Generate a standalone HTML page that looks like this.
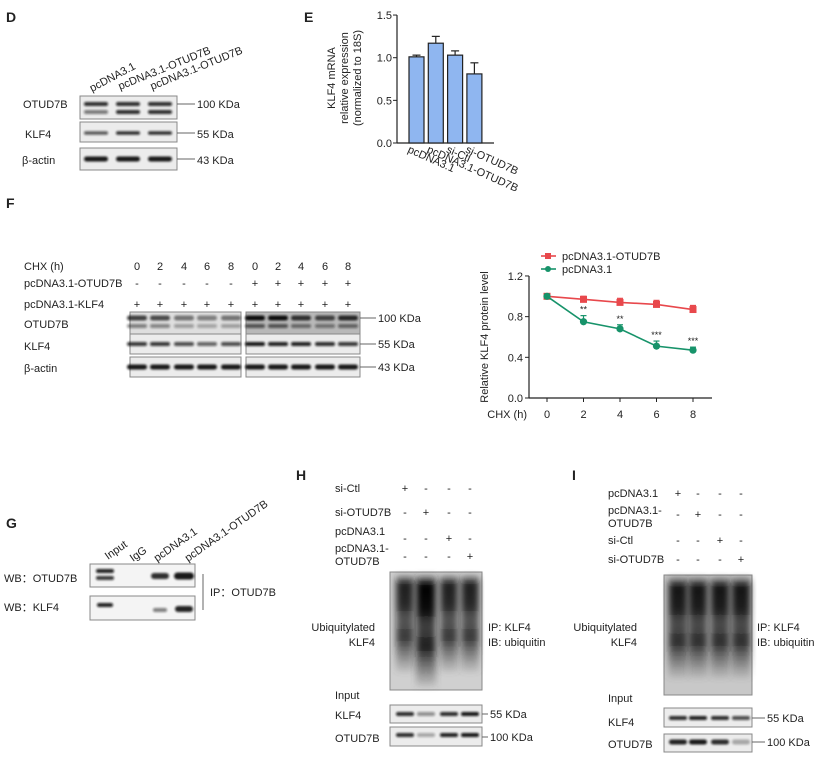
<!DOCTYPE html>
<html><head><meta charset="utf-8"><style>
html,body{margin:0;padding:0;background:#fff;}
svg{display:block;font-family:"Liberation Sans",Arial,sans-serif;}
text{fill:#222;}
</style></head><body>
<svg id="fig" width="824" height="758" viewBox="0 0 824 758" xmlns="http://www.w3.org/2000/svg">
<defs>
<filter id="bl" x="-20%" y="-100%" width="140%" height="300%"><feGaussianBlur stdDeviation="1.1"/></filter>
<filter id="bl2" x="-30%" y="-20%" width="160%" height="140%"><feGaussianBlur stdDeviation="3.5"/></filter>
<linearGradient id="smearG" x1="0" y1="0" x2="0" y2="1">
<stop offset="0" stop-color="#333" stop-opacity="0.5"/>
<stop offset="0.08" stop-color="#000" stop-opacity="1"/>
<stop offset="0.3" stop-color="#000" stop-opacity="0.95"/>
<stop offset="0.45" stop-color="#111" stop-opacity="0.75"/>
<stop offset="0.65" stop-color="#000" stop-opacity="0.85"/>
<stop offset="0.85" stop-color="#333" stop-opacity="0.5"/>
<stop offset="1" stop-color="#555" stop-opacity="0.15"/>
</linearGradient>
</defs>
<g font-size="14" font-weight="bold">
<text x="6" y="22">D</text>
<text x="304" y="22">E</text>
<text x="6" y="208">F</text>
<text x="6" y="528">G</text>
<text x="296" y="480">H</text>
<text x="572" y="480">I</text>
</g>
<g id="blots"></g>
<g id="barchart"></g>
<g id="linechart"></g>
</svg>
<script>
const NS='http://www.w3.org/2000/svg';
function mk(parent,tag,attrs,txt){const e=document.createElementNS(NS,tag);for(const k in attrs)e.setAttribute(k,attrs[k]);if(txt!==undefined)e.textContent=txt;parent.appendChild(e);return e;}
const B=document.getElementById('blots');
function txt(x,y,s,opt){opt=opt||{};const e=mk(B,'text',{x:x,y:y,'font-size':opt.fs||11,'text-anchor':opt.a||'start'},s);if(opt.rot)e.setAttribute('transform','rotate('+opt.rot+' '+x+' '+y+')');


return e;}
function box(x,y,w,h,bg){const r=mk(B,'rect',{x:x,y:y,width:w,height:h,fill:bg||'#ececec',stroke:'#888','stroke-width':1});


return r;}
function band(cx,cy,w,h,op){const r=mk(B,'rect',{x:cx-w/2,y:cy-h/2,width:w,height:h,rx:h/2,fill:'#111',opacity:op,filter:'url(#bl)'});

}
function line(x1,y1,x2,y2){const l=mk(B,'line',{x1:x1,y1:y1,x2:x2,y2:y2,stroke:'#666','stroke-width':1});

}
function smear(x,y,w,h,op){const g=mk(B,'rect',{x:x-w/2,y:y,width:w,height:h,fill:'url(#smearG)',opacity:op,filter:'url(#bl2)'});

}

// ---- Panel D
txt(92,92,'pcDNA3.1',{rot:-28});txt(120,90,'pcDNA3.1-OTUD7B',{rot:-22});txt(152,90,'pcDNA3.1-OTUD7B',{rot:-22});
txt(23,108,'OTUD7B');txt(25,138,'KLF4');txt(22,164,'β-actin');
box(80,96,97,23);box(80,122,97,20);box(80,148,97,22);
[96,128,160].forEach((x,i)=>{band(x,104,24,4,0.85);band(x,112,24,4,i?0.85:0.5);band(x,133,24,3.5,i?0.85:0.65);band(x,159,24,5,0.95);});
line(177,104,195,104);line(177,133,195,133);line(177,159,195,159);
txt(197,108,'100 KDa');txt(197,138,'55 KDa');txt(197,164,'43 KDa');

// ---- Panel F
txt(24,270,'CHX (h)');txt(24,287,'pcDNA3.1-OTUD7B');txt(24,308,'pcDNA3.1-KLF4');
txt(24,328,'OTUD7B');txt(24,350,'KLF4');txt(24,372,'β-actin');
const fl=[137,160,184,207,231,255,278,301,325,348];const hrs=['0','2','4','6','8','0','2','4','6','8'];
fl.forEach((x,i)=>{txt(x,270,hrs[i],{a:'middle'});txt(x,287,i<5?'-':'+',{a:'middle'});txt(x,308,'+',{a:'middle'});});
box(130,312,111,22,'#dedede');box(246,312,114,22,'#b8b8b8');box(130,334,111,20);box(246,334,114,20);box(130,357,111,20);box(246,357,114,20);
const fo=[0.75,0.7,0.5,0.45,0.5,1,1,0.8,0.7,0.85];const fk=[0.8,0.8,0.7,0.6,0.7,0.95,0.9,0.9,0.85,0.8];
fl.forEach((x,i)=>{band(x,318,20,5,fo[i]);band(x,326,20,4,fo[i]*0.6);band(x,344,20,4,fk[i]);band(x,367,20,5,0.95);});
line(360,318,376,318);line(360,344,376,344);line(360,367,376,367);
txt(378,322,'100 KDa');txt(378,348,'55 KDa');txt(378,371,'43 KDa');

// ---- Panel G
txt(108,560,'Input',{rot:-35});txt(133,562,'IgG',{rot:-35});txt(157,562,'pcDNA3.1',{rot:-35});txt(188,562,'pcDNA3.1-OTUD7B',{rot:-35});
txt(4,582,'WB：OTUD7B');txt(4,611,'WB：KLF4');
box(90,564,105,23,'#f4f4f4');box(90,596,105,24,'#f4f4f4');
band(105,571,18,4,0.9);band(105,578,18,4,0.8);band(160,576,18,6,0.85);band(184,576,20,7,0.95);
band(105,605,16,4,0.9);band(160,610,14,4,0.5);band(184,609,18,6,0.9);
line(203,574,203,610);txt(210,596,'IP：OTUD7B');

// ---- Panel H
const hl=[405,426,449,470];
txt(335,492,'si-Ctl');txt(335,516,'si-OTUD7B');txt(335,535,'pcDNA3.1');txt(335,552,'pcDNA3.1-');txt(335,565,'OTUD7B');
[['+','-','-','-',492],['-','+','-','-',516],['-','-','+','-',542],['-','-','-','+',560]].forEach(r=>hl.forEach((x,i)=>txt(x,r[4],r[i],{a:'middle'})));
box(390,572,92,118,'#d0d0d0');
hl.forEach((x,i)=>smear(x,576,i==1?20:18,i==1?110:96,i==1?1:0.85));
txt(375,631,'Ubiquitylated',{a:'end'});txt(375,646,'KLF4',{a:'end'});
txt(488,631,'IP: KLF4');txt(488,646,'IB: ubiquitin');txt(335,699,'Input');
txt(335,719,'KLF4');txt(335,742,'OTUD7B');
box(390,705,92,18);box(390,727,92,19);
[0.85,0.4,0.85,0.95].forEach((o,i)=>band(hl[i],714,18,4,o));[0.85,0.3,0.9,0.95].forEach((o,i)=>band(hl[i],735,18,4,o));
line(482,714,488,714);line(482,737,488,737);
txt(490,718,'55 KDa');txt(490,741,'100 KDa');

// ---- Panel I
const il=[678,698,720,741];
txt(608,497,'pcDNA3.1');txt(608,514,'pcDNA3.1-');txt(608,527,'OTUD7B');txt(608,544,'si-Ctl');txt(608,563,'si-OTUD7B');
[['+','-','-','-',497],['-','+','-','-',518],['-','-','+','-',544],['-','-','-','+',563]].forEach(r=>il.forEach((x,i)=>txt(x,r[4],r[i],{a:'middle'})));
box(664,575,88,120,'#c8c8c8');
il.forEach((x,i)=>smear(x,578,19,100,0.9));
txt(637,631,'Ubiquitylated',{a:'end'});txt(637,646,'KLF4',{a:'end'});
txt(757,631,'IP: KLF4');txt(757,646,'IB: ubiquitin');txt(608,702,'Input');
txt(608,726,'KLF4');txt(608,748,'OTUD7B');
box(664,708,88,19);box(664,734,88,18);
[0.85,0.9,0.85,0.7].forEach((o,i)=>band(il[i],718,18,4,o));[0.9,0.95,0.85,0.3].forEach((o,i)=>band(il[i],742,18,5,o));
line(752,718,765,718);line(752,742,765,742);
txt(767,722,'55 KDa');txt(767,746,'100 KDa');

// ================= Bar chart (E)
const barCats=['pcDNA3.1','pcDNA3.1-OTUD7B','si-Ctl','si-OTUD7B'];
const barVals=[1.01,1.17,1.03,0.81];
const barErrs=[0.02,0.08,0.05,0.13];
const barTicks=[0,0.5,1.0,1.5];
(function(){
const G=document.getElementById('barchart');
const y0=143,sc=85.3,ax=397;
const yv=v=>y0-v*sc;const xb=i=>409+i*19.3;
mk(G,'line',{x1:ax,y1:yv(1.5),x2:ax,y2:y0,stroke:'#222','stroke-width':1.2});
mk(G,'line',{x1:ax,y1:y0,x2:494,y2:y0,stroke:'#222','stroke-width':1.2});
barTicks.forEach(t=>{mk(G,'line',{x1:ax-4,y1:yv(t),x2:ax,y2:yv(t),stroke:'#222'});
const l=mk(G,'text',{x:ax-5,y:yv(t)+4,'font-size':11,'text-anchor':'end'},t.toFixed(1));

});
barVals.forEach((v,i)=>{const x=xb(i);
const r=mk(G,'rect',{x:x,y:yv(v),width:15,height:y0-yv(v),fill:'#8fb6f0',stroke:'#222','stroke-width':1.2});


const e=barErrs[i];mk(G,'line',{x1:x+7.5,y1:yv(v),x2:x+7.5,y2:yv(v+e),stroke:'#222','stroke-width':1.2});
mk(G,'line',{x1:x+3.5,y1:yv(v+e),x2:x+11.5,y2:yv(v+e),stroke:'#222','stroke-width':1.2});
const lx=x-2,ly=y0+9;
const l=mk(G,'text',{x:lx,y:ly,'font-size':11,'text-anchor':'start',transform:'rotate(24 '+lx+' '+ly+')'},barCats[i]);

});
['KLF4 mRNA','relative expression','(normalized to 18S)'].forEach((s,k)=>{const x=335+k*13;
const l=mk(G,'text',{x:x,y:78,'font-size':11,'text-anchor':'middle',transform:'rotate(-90 '+x+' 78)'},s);

});
})();

// ================= Line chart (F right)
const hours=[0,2,4,6,8];
const otudVals=[1.0,0.97,0.94,0.92,0.87];
const otudErrs=[0.02,0.03,0.04,0.04,0.04];
const ctrlVals=[1.0,0.75,0.68,0.51,0.47];
const ctrlErrs=[0.02,0.06,0.04,0.05,0.03];
const sigMarks=['','**','**','***','***'];
const lineTicks=[0,0.4,0.8,1.2];
(function(){
const G=document.getElementById('linechart');
const yv=v=>398-v*101.7;const xv=h=>547+h*18.25;const ax=529;
mk(G,'line',{x1:ax,y1:yv(1.2),x2:ax,y2:398,stroke:'#222','stroke-width':1.2});
mk(G,'line',{x1:ax,y1:398,x2:712,y2:398,stroke:'#222','stroke-width':1.2});
lineTicks.forEach(t=>{mk(G,'line',{x1:ax-4,y1:yv(t),x2:ax,y2:yv(t),stroke:'#222'});
const l=mk(G,'text',{x:ax-6,y:yv(t)+4,'font-size':11,'text-anchor':'end'},t.toFixed(1));

});
hours.forEach(h=>{mk(G,'line',{x1:xv(h),y1:398,x2:xv(h),y2:402,stroke:'#222'});
const l=mk(G,'text',{x:xv(h),y:418,'font-size':11,'text-anchor':'middle'},h);

});
const xt=mk(G,'text',{x:527,y:418,'font-size':11,'text-anchor':'end'},'CHX (h)');


const yt=mk(G,'text',{x:488,y:337,'font-size':11,'text-anchor':'middle',transform:'rotate(-90 488 337)'},'Relative KLF4 protein  level');


function series(vals,errs,col,name,sq){
const p=mk(G,'polyline',{points:vals.map((v,i)=>xv(hours[i])+','+yv(v)).join(' '),fill:'none',stroke:col,'stroke-width':1.6});


vals.forEach((v,i)=>{const x=xv(hours[i]);
mk(G,'line',{x1:x,y1:yv(v),x2:x,y2:yv(v+errs[i]),stroke:col,'stroke-width':1.2});
mk(G,'line',{x1:x-3,y1:yv(v+errs[i]),x2:x+3,y2:yv(v+errs[i]),stroke:col,'stroke-width':1.2});
const m=sq?mk(G,'rect',{x:x-3.5,y:yv(v)-3.5,width:7,height:7,fill:col}):mk(G,'circle',{cx:x,cy:yv(v),r:3.6,fill:col});

});}
series(otudVals,otudErrs,'#e8484c','otud7b',true);
series(ctrlVals,ctrlErrs,'#17936a','control',false);
ctrlVals.forEach((v,i)=>{if(!sigMarks[i])return;const s=mk(G,'text',{x:xv(hours[i]),y:yv(v+ctrlErrs[i])-3,'font-size':9,'text-anchor':'middle'},sigMarks[i]);

});
[['#e8484c','pcDNA3.1-OTUD7B',256,true],['#17936a','pcDNA3.1',269,false]].forEach(L=>{
mk(G,'line',{x1:541,y1:L[2],x2:556,y2:L[2],stroke:L[0],'stroke-width':1.6});
if(L[3])mk(G,'rect',{x:545,y:L[2]-3,width:6,height:6,fill:L[0]});else mk(G,'circle',{cx:548,cy:L[2],r:3,fill:L[0]});
const t=mk(G,'text',{x:562,y:L[2]+4,'font-size':11},L[1]);

});
})();
</script>
</body></html>
